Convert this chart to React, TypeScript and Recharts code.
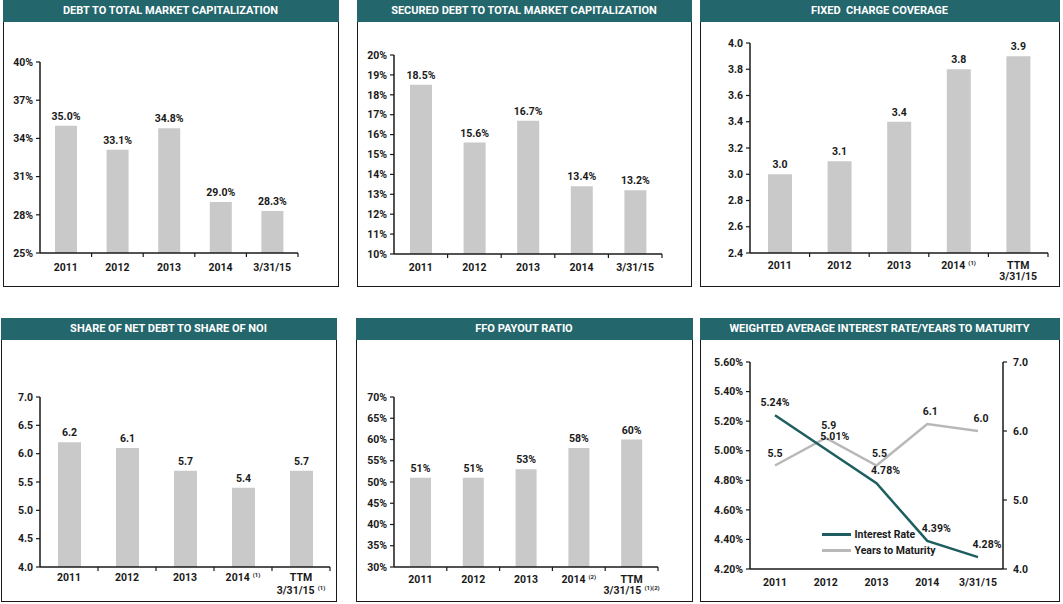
import React from 'react';
import { BarChart, Bar, XAxis, YAxis, LabelList, LineChart, Line, Legend } from 'recharts';

const categories = ['2011', '2012', '2013', '2014', '3/31/15'];
const ttmCategories = ['2011', '2012', '2013', '2014', 'TTM|3/31/15'];
const notesFixed = ['', '', '', '(1)', ''];
const notesNoi = ['', '', '', '(1)', '(1)'];
const notesFfo = ['', '', '', '(2)', '(1)(2)'];

const debtToCap = [35.0, 33.1, 34.8, 29.0, 28.3];
const securedDebt = [18.5, 15.6, 16.7, 13.4, 13.2];
const fixedCharge = [3.0, 3.1, 3.4, 3.8, 3.9];
const netDebtToNoi = [6.2, 6.1, 5.7, 5.4, 5.7];
const ffoPayout = [51, 51, 53, 58, 60];
const interestRate = [5.24, 5.01, 4.78, 4.39, 4.28];
const yearsToMaturity = [5.5, 5.9, 5.5, 6.1, 6.0];

const debtToCapTicks = [25, 28, 31, 34, 37, 40];
const securedTicks = [10, 11, 12, 13, 14, 15, 16, 17, 18, 19, 20];
const fixedTicks = [2.4, 2.6, 2.8, 3.0, 3.2, 3.4, 3.6, 3.8, 4.0];
const noiTicks = [4.0, 4.5, 5.0, 5.5, 6.0, 6.5, 7.0];
const ffoTicks = [30, 35, 40, 45, 50, 55, 60, 65, 70];
const rateTicks = [4.2, 4.4, 4.6, 4.8, 5.0, 5.2, 5.4, 5.6];
const maturityTicks = [4, 5, 6, 7];

const TEAL = '#23666b';
const INK = '#1a1a1a';
const BAR = '#c9c9c9';
const font = { fontFamily: 'Roboto, "Noto Sans", sans-serif', fontWeight: 700, fontSize: 10.5, fill: INK };

const pct0 = (v: number) => `${v}%`;
const pct1 = (v: number) => `${v.toFixed(1)}%`;
const dec1 = (v: number) => v.toFixed(1);
const pct2 = (v: number) => `${v.toFixed(2)}%`;

function CategoryTick(props: any) {
  const { x, y, payload, index, band, notes, gap = 17, lineGap = 11 } = props;
  const lines = String(payload.value).split('|');
  const note = notes ? notes[index] : '';
  return (
    <g>
      {band ? (
        <line x1={x + band / 2} x2={x + band / 2} y1={y} y2={y + 4} stroke={INK} strokeWidth={1.2} />
      ) : null}
      {lines.map((ln: string, i: number) => (
        <text key={i} x={x} y={y + gap + i * lineGap} textAnchor="middle" style={font}>
          {ln}
          {i === lines.length - 1 && note ? (
            <tspan fontSize={6} dx={3} dy={-4}>
              {note}
            </tspan>
          ) : null}
        </text>
      ))}
    </g>
  );
}

function Panel({ left, top, width, height, title, children }: any) {
  return (
    <div
      style={{
        position: 'absolute',
        left,
        top,
        width,
        height,
        border: `1.5px solid ${INK}`,
        boxSizing: 'border-box',
        background: '#fff',
      }}
    >
      <div style={{ position: 'absolute', left: -1.5, top: -1.5, width, height, overflow: 'hidden' }}>
        {children}
      </div>
      <div
        style={{
          position: 'absolute',
          left: -1.5,
          top: -1.5,
          width,
          height: 22,
          background: TEAL,
          color: '#fff',
          fontFamily: font.fontFamily,
          fontWeight: 700,
          fontSize: 11,
          lineHeight: '22px',
          textAlign: 'center',
          whiteSpace: 'pre',
        }}
      >
        {title}
      </div>
    </div>
  );
}

function BarPanel(props: any) {
  const { left, top, width, height, title, names, notes, values, ticks, yFormat, labelFormat, margin, barSize, gap, lineGap } =
    props;
  const data = names.map((n: string, i: number) => ({ name: n, value: values[i] }));
  const plotWidth = width - margin.left - margin.right - 32;
  const band = plotWidth / names.length;
  return (
    <Panel left={left} top={top} width={width} height={height} title={title}>
      <BarChart width={width} height={height} data={data} margin={margin}>
        <XAxis
          dataKey="name"
          height={30}
          axisLine={{ stroke: INK, strokeWidth: 1.5 }}
          tickLine={false}
          tickSize={0}
          tickMargin={0}
          interval={0}
          tick={<CategoryTick band={band} notes={notes} gap={gap} lineGap={lineGap} />}
        />
        <YAxis
          width={32}
          domain={[ticks[0], ticks[ticks.length - 1]]}
          ticks={ticks}
          interval={0}
          tickFormatter={yFormat}
          axisLine={{ stroke: INK, strokeWidth: 1.5 }}
          tickLine={{ stroke: INK, strokeWidth: 1.2 }}
          tickSize={4}
          tickMargin={3}
          tick={font}
        />
        <Bar dataKey="value" fill={BAR} barSize={barSize} isAnimationActive={false}>
          <LabelList dataKey="value" position="top" offset={6} formatter={labelFormat} style={font} />
        </Bar>
      </BarChart>
    </Panel>
  );
}

function PointLabel(props: any) {
  const { x, y, value, index, format, shift } = props;
  const dx = index === 0 ? 0 : shift;
  return (
    <text x={x + dx} y={y - 9} textAnchor="middle" style={font}>
      {format(value)}
    </text>
  );
}

function LegendBox() {
  const rows = [
    { label: 'Interest Rate', color: '#1e5e61' },
    { label: 'Years to Maturity', color: '#b8b8b8' },
  ];
  return (
    <div>
      {rows.map((r) => (
        <div key={r.label} style={{ display: 'flex', alignItems: 'center', height: 16 }}>
          <div style={{ width: 29, height: 2.5, background: r.color, marginRight: 4 }} />
          <span style={{ fontFamily: font.fontFamily, fontWeight: 700, fontSize: 10.5, color: INK }}>{r.label}</span>
        </div>
      ))}
    </div>
  );
}

function RatePanel() {
  const data = categories.map((n, i) => ({ name: n, rate: interestRate[i], years: yearsToMaturity[i] }));
  return (
    <Panel left={700} top={318} width={360} height={284} title="WEIGHTED AVERAGE INTEREST RATE/YEARS TO MATURITY">
      <LineChart width={360} height={284} data={data} margin={{ top: 44, right: 17, left: 5, bottom: 8 }}>
        <XAxis
          dataKey="name"
          height={25}
          padding={{ left: 25, right: 25 }}
          axisLine={{ stroke: INK, strokeWidth: 1.5 }}
          tickLine={false}
          tickSize={0}
          tickMargin={0}
          interval={0}
          tick={<CategoryTick band={0} gap={17} />}
        />
        <YAxis
          yAxisId="rate"
          width={45}
          domain={[4.2, 5.6]}
          ticks={rateTicks}
          interval={0}
          tickFormatter={pct2}
          axisLine={{ stroke: INK, strokeWidth: 1.5 }}
          tickLine={{ stroke: INK, strokeWidth: 1.2 }}
          tickSize={4}
          tickMargin={3}
          tick={font}
        />
        <YAxis
          yAxisId="years"
          orientation="right"
          width={40}
          domain={[4, 7]}
          ticks={maturityTicks}
          interval={0}
          tickFormatter={dec1}
          axisLine={{ stroke: INK, strokeWidth: 1.5 }}
          tickLine={{ stroke: INK, strokeWidth: 1.2 }}
          tickSize={4}
          tickMargin={6}
          tick={font}
        />
        <Legend
          layout="vertical"
          align="center"
          verticalAlign="middle"
          wrapperStyle={{ left: 122, top: 209, width: 'auto' }}
          content={<LegendBox />}
        />
        <Line
          yAxisId="years"
          dataKey="years"
          stroke="#b8b8b8"
          strokeWidth={2.5}
          dot={false}
          isAnimationActive={false}
        >
          <LabelList dataKey="years" content={<PointLabel format={dec1} shift={3} />} />
        </Line>
        <Line
          yAxisId="rate"
          dataKey="rate"
          stroke="#1e5e61"
          strokeWidth={2.5}
          dot={false}
          isAnimationActive={false}
        >
          <LabelList dataKey="rate" content={<PointLabel format={pct2} shift={9} />} />
        </Line>
      </LineChart>
    </Panel>
  );
}

export default function App() {
  return (
    <div style={{ position: 'absolute', left: 0, top: 0, width: 1063, height: 604, background: '#fff' }}>
      <BarPanel
        left={3}
        top={0}
        width={336}
        height={287}
        title="DEBT TO TOTAL MARKET CAPITALIZATION"
        names={categories}
        values={debtToCap}
        ticks={debtToCapTicks}
        yFormat={pct0}
        labelFormat={pct1}
        margin={{ top: 62, right: 41, left: 5, bottom: 4 }}
        barSize={22}
        gap={18}
      />
      <BarPanel
        left={357}
        top={0}
        width={335}
        height={287}
        title="SECURED DEBT TO TOTAL MARKET CAPITALIZATION"
        names={categories}
        values={securedDebt}
        ticks={securedTicks}
        yFormat={pct0}
        labelFormat={pct1}
        margin={{ top: 55, right: 30, left: 5, bottom: 3 }}
        barSize={22}
        gap={17}
      />
      <BarPanel
        left={700}
        top={0}
        width={360}
        height={287}
        title={'FIXED  CHARGE COVERAGE'}
        names={ttmCategories}
        notes={notesFixed}
        values={fixedCharge}
        ticks={fixedTicks}
        yFormat={dec1}
        labelFormat={dec1}
        margin={{ top: 43, right: 12, left: 18, bottom: 4 }}
        barSize={24}
        gap={16}
        lineGap={11}
      />
      <BarPanel
        left={1}
        top={318}
        width={336}
        height={284}
        title="SHARE OF NET DEBT TO SHARE OF NOI"
        names={ttmCategories}
        notes={notesNoi}
        values={netDebtToNoi}
        ticks={noiTicks}
        yFormat={dec1}
        labelFormat={dec1}
        margin={{ top: 79, right: 7, left: 7, bottom: 5 }}
        barSize={23}
        gap={14}
        lineGap={13}
      />
      <BarPanel
        left={356}
        top={318}
        width={337}
        height={284}
        title="FFO PAYOUT RATIO"
        names={ttmCategories}
        notes={notesFfo}
        values={ffoPayout}
        ticks={ffoTicks}
        yFormat={pct0}
        labelFormat={pct0}
        margin={{ top: 79, right: 35, left: 6, bottom: 5 }}
        barSize={21}
        gap={16}
        lineGap={11}
      />
      <RatePanel />
    </div>
  );
}
